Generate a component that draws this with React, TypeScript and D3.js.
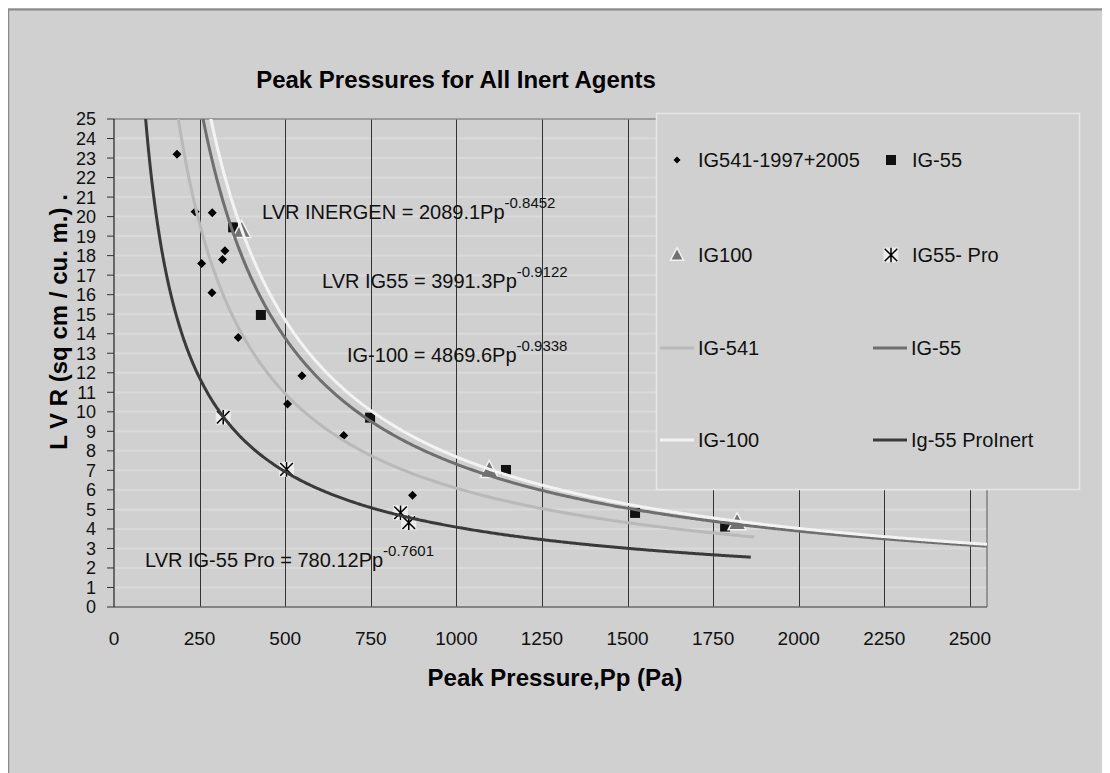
import React, { useEffect, useRef } from "react";
import * as d3 from "d3";

// scatter points (Pp in Pa, LVR)
const ig541X = [184, 237, 287, 324, 317, 256, 286, 363, 549, 507, 671, 872];
const ig541Y = [23.2, 20.25, 20.2, 18.25, 17.8, 17.6, 16.1, 13.8, 11.85, 10.4, 8.78, 5.72];
const ig55X = [348, 429, 748, 1145, 1522, 1785];
const ig55Y = [19.45, 14.96, 9.7, 7.02, 4.82, 4.12];
const ig100X = [373, 1096, 1820];
const ig100Y = [19.3, 7.0, 4.32];
const proX = [319, 504, 837, 861];
const proY = [9.72, 7.05, 4.83, 4.32];

// power trendlines LVR = a * Pp^b, as printed on the chart
const trendNames = ["IG-541", "IG-55", "IG-100", "Ig-55 ProInert"];
const trendCoef = [2089.1, 3991.3, 4869.6, 780.12];
const trendExp = [-0.8452, -0.9122, -0.9338, -0.7601];
const trendEnd = [1870, 2550, 2550, 1860];
const trendColors = ["#b9b9b9", "#6f6f6f", "#f3f3f3", "#3a3a3a"];

const equationMain = [
  "LVR INERGEN = 2089.1Pp",
  "LVR IG55 = 3991.3Pp",
  "IG-100 = 4869.6Pp",
  "LVR IG-55 Pro = 780.12Pp",
];
const equationSup = ["-0.8452", "-0.9122", "-0.9338", "-0.7601"];

const xTicks = [0, 250, 500, 750, 1000, 1250, 1500, 1750, 2000, 2250, 2500];
const yTicks = [
  0, 1, 2, 3, 4, 5, 6, 7, 8, 9, 10, 11, 12, 13, 14, 15, 16, 17, 18, 19, 20, 21,
  22, 23, 24, 25,
];

const FONT = "'Liberation Sans', Arial, sans-serif";
const BG = "#d0d0d0";

const App = () => {
  const ref = useRef<SVGSVGElement | null>(null);

  useEffect(() => {
    const svg = d3.select(ref.current);
    svg.selectAll("*").remove();
    const W = 1102;
    const H = 765;

    svg.append("rect").attr("width", W).attr("height", H).attr("fill", BG);
    svg
      .append("line")
      .attr("x1", 0)
      .attr("x2", W)
      .attr("y1", 1.5)
      .attr("y2", 1.5)
      .attr("stroke", "#8a8a8a")
      .attr("stroke-width", 2);
    svg
      .append("line")
      .attr("x1", 0.5)
      .attr("x2", 0.5)
      .attr("y1", 1)
      .attr("y2", H)
      .attr("stroke", "#8a8a8a")
      .attr("stroke-width", 1.5);

    const x = d3.scaleLinear().domain([0, 2550]).range([106, 979]);
    const y = d3.scaleLinear().domain([0, 25]).range([599, 111]);
    const [left, right] = x.range();
    const [bottom, top] = y.range();

    // title
    svg
      .append("text")
      .attr("x", 448)
      .attr("y", 80)
      .attr("text-anchor", "middle")
      .style("font-family", FONT)
      .style("font-size", "24px")
      .style("font-weight", "bold")
      .text("Peak Pressures for All Inert Agents");

    // horizontal light gridlines
    svg
      .append("g")
      .selectAll("line")
      .data(yTicks.filter((t) => t > 0 && t < 25))
      .join("line")
      .attr("x1", left)
      .attr("x2", right)
      .attr("y1", (d) => y(d))
      .attr("y2", (d) => y(d))
      .attr("stroke", "#dadada")
      .attr("stroke-width", 2);

    // vertical dark gridlines
    svg
      .append("g")
      .selectAll("line")
      .data(xTicks.filter((t) => t > 0))
      .join("line")
      .attr("x1", (d) => Math.round(x(d)) + 0.5)
      .attr("x2", (d) => Math.round(x(d)) + 0.5)
      .attr("y1", top)
      .attr("y2", bottom)
      .attr("stroke", "#333")
      .attr("stroke-width", 1);

    // plot frame
    svg
      .append("line")
      .attr("x1", left)
      .attr("x2", right)
      .attr("y1", top)
      .attr("y2", top)
      .attr("stroke", "#8a8a8a")
      .attr("stroke-width", 1.5);
    svg
      .append("line")
      .attr("x1", right)
      .attr("x2", right)
      .attr("y1", top)
      .attr("y2", bottom)
      .attr("stroke", "#808080")
      .attr("stroke-width", 1.5);
    svg
      .append("line")
      .attr("x1", left)
      .attr("x2", right)
      .attr("y1", bottom)
      .attr("y2", bottom)
      .attr("stroke", "#6a6a6a")
      .attr("stroke-width", 1.5);
    svg
      .append("line")
      .attr("x1", left)
      .attr("x2", left)
      .attr("y1", top)
      .attr("y2", bottom)
      .attr("stroke", "#222")
      .attr("stroke-width", 1.2);

    // y ticks + labels
    const yAx = svg.append("g");
    yTicks.forEach((t) => {
      yAx
        .append("line")
        .attr("x1", left - 7)
        .attr("x2", left)
        .attr("y1", y(t))
        .attr("y2", y(t))
        .attr("stroke", "#333")
        .attr("stroke-width", 1);
      yAx
        .append("text")
        .attr("x", 88)
        .attr("y", y(t))
        .attr("dy", "0.36em")
        .attr("text-anchor", "end")
        .style("font-family", FONT)
        .style("font-size", "18px")
        .attr("fill", "#111")
        .text(t);
    });

    // x tick labels
    svg
      .append("g")
      .selectAll("text")
      .data(xTicks)
      .join("text")
      .attr("x", (d) => x(d))
      .attr("y", 630)
      .attr("dy", "0.36em")
      .attr("text-anchor", "middle")
      .style("font-family", FONT)
      .style("font-size", "19px")
      .attr("fill", "#111")
      .text((d) => d);

    svg
      .append("text")
      .attr("x", 547)
      .attr("y", 669)
      .attr("dy", "0.36em")
      .attr("text-anchor", "middle")
      .style("font-family", FONT)
      .style("font-size", "24px")
      .style("font-weight", "bold")
      .text("Peak Pressure,Pp (Pa)");

    svg
      .append("text")
      .attr("transform", "translate(50,314) rotate(-90)")
      .attr("dy", "0.36em")
      .attr("text-anchor", "middle")
      .style("font-family", FONT)
      .style("font-size", "24px")
      .style("font-weight", "bold")
      .text("L V R (sq cm / cu. m.) .");

    // markers
    const diamond = (g, cx, cy, r) =>
      g
        .append("path")
        .attr("d", `M${cx},${cy - r}L${cx + r},${cy}L${cx},${cy + r}L${cx - r},${cy}Z`)
        .attr("fill", "#000");
    const square = (g, cx, cy, s) =>
      g
        .append("rect")
        .attr("x", cx - s / 2)
        .attr("y", cy - s / 2)
        .attr("width", s)
        .attr("height", s)
        .attr("fill", "#111");
    const triangle = (g, cx, cy, s) =>
      g
        .append("path")
        .attr(
          "d",
          `M${cx},${cy - s * 0.55}L${cx + s / 2},${cy + s * 0.4}L${cx - s / 2},${cy + s * 0.4}Z`
        )
        .attr("fill", "#727272")
        .attr("stroke", "#f2f2f2")
        .attr("stroke-width", 1.5);
    const star = (g, cx, cy, s) => {
      g.append("rect")
        .attr("x", cx - s / 2)
        .attr("y", cy - s / 2)
        .attr("width", s)
        .attr("height", s)
        .attr("fill", "#ececec");
      const r = s * 0.42;
      g.append("path")
        .attr(
          "d",
          `M${cx - r},${cy - r}L${cx + r},${cy + r}M${cx + r},${cy - r}L${cx - r},${cy + r}M${cx},${cy - r - 1}L${cx},${cy + r + 1}`
        )
        .attr("stroke", "#000")
        .attr("stroke-width", 1.5)
        .attr("fill", "none");
    };

    const pts = svg.append("g");
    ig541X.forEach((v, i) => diamond(pts, x(v), y(ig541Y[i]), 4.5));
    ig55X.forEach((v, i) => square(pts, x(v), y(ig55Y[i]), 10));
    ig100X.forEach((v, i) => triangle(pts, x(v), y(ig100Y[i]), 18));
    proX.forEach((v, i) => star(pts, x(v), y(proY[i]), 15));

    // trendlines, clipped to the plot area
    svg
      .append("clipPath")
      .attr("id", "plot-clip")
      .append("rect")
      .attr("x", left)
      .attr("y", top)
      .attr("width", right - left)
      .attr("height", bottom - top);

    const line = d3
      .line<number[]>()
      .x((d) => x(d[0]))
      .y((d) => y(d[1]))
      .curve(d3.curveLinear);

    const curves = svg.append("g").attr("clip-path", "url(#plot-clip)");
    trendNames.forEach((name, i) => {
      const a = trendCoef[i];
      const b = trendExp[i];
      const start = Math.pow(26 / a, 1 / b);
      const xs = d3.range(start, trendEnd[i], 4).concat([trendEnd[i]]);
      curves
        .append("path")
        .datum(xs.map((v) => [v, a * Math.pow(v, b)]))
        .attr("d", line)
        .attr("fill", "none")
        .attr("stroke", trendColors[i])
        .attr("stroke-width", 3);
    });

    // trendline equations
    const eqPos = [
      [254, 211],
      [314, 280],
      [339, 354],
      [137, 559],
    ];
    equationMain.forEach((txt, i) => {
      const t = svg
        .append("text")
        .attr("x", eqPos[i][0])
        .attr("y", eqPos[i][1])
        .style("font-family", FONT)
        .style("font-size", "20px")
        .attr("fill", "#111");
      t.append("tspan").text(txt);
      t.append("tspan")
        .attr("dy", -11)
        .style("font-size", "15px")
        .text(equationSup[i]);
    });

    // legend
    const lg = svg.append("g");
    lg.append("rect")
      .attr("x", 648.5)
      .attr("y", 105.5)
      .attr("width", 423)
      .attr("height", 376)
      .attr("fill", BG)
      .attr("stroke", "#e6e6e6")
      .attr("stroke-width", 1.5);

    const rows = [152, 247, 340, 432];
    const c1 = 669;
    const c2 = 883;
    const legendText = (tx, ty, label) =>
      lg
        .append("text")
        .attr("x", tx)
        .attr("y", ty)
        .attr("dy", "0.36em")
        .style("font-family", FONT)
        .style("font-size", "20px")
        .attr("fill", "#111")
        .text(label);

    diamond(lg, c1, rows[0], 3.5);
    legendText(c1 + 21, rows[0], "IG541-1997+2005");
    square(lg, c2, rows[0], 10);
    legendText(c2 + 21, rows[0], "IG-55");
    triangle(lg, c1, rows[1], 13);
    legendText(c1 + 21, rows[1], "IG100");
    star(lg, c2, rows[1], 15);
    legendText(c2 + 21, rows[1], "IG55- Pro");

    trendNames.forEach((name, i) => {
      const cx = i % 2 === 0 ? 652 : 865;
      const ry = rows[2 + Math.floor(i / 2)];
      lg.append("line")
        .attr("x1", cx)
        .attr("x2", cx + 34)
        .attr("y1", ry)
        .attr("y2", ry)
        .attr("stroke", trendColors[i])
        .attr("stroke-width", 3);
      legendText(cx + 38, ry, name);
    });
  }, []);

  return (
    <svg
      ref={ref}
      width={1102}
      height={765}
      style={{ display: "block" }}
    ></svg>
  );
};

export default App;
